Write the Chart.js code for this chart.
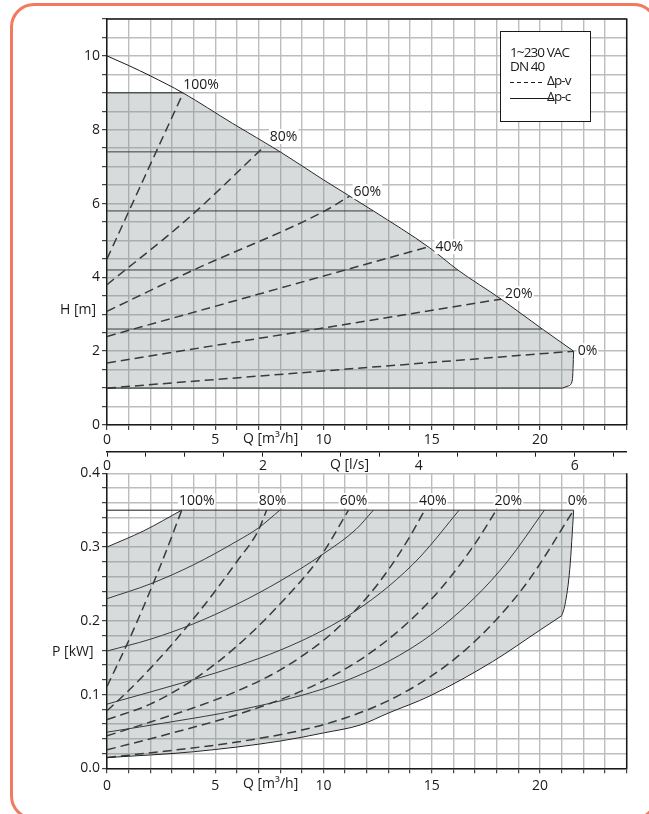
<!DOCTYPE html>
<html>
<head>
<meta charset="utf-8">
<script src="https://cdn.jsdelivr.net/npm/chart.js@4.4.0/dist/chart.umd.min.js"></script>
<style>
  html, body { margin: 0; padding: 0; background: #fff; overflow: hidden; }
  #page { position: relative; width: 649px; height: 814px; overflow: hidden; }
  #frame { position: absolute; left: 10px; top: 2.5px; width: 648px; height: 817px; box-sizing: border-box;
           border: 3px solid #f27a5f; border-radius: 24px; }
  #cTop { position: absolute; left: 0; top: 0; }
  #cBot { position: absolute; left: 0; top: 460px; }
</style>
</head>
<body>
<div id="page">
  <div id="frame"></div>
  <canvas id="cTop" width="649" height="480"></canvas>
  <canvas id="cBot" width="649" height="354"></canvas>
</div>
<script>
// ---------- upper diagram: H [m] over Q [m3/h] ----------
const qMax = [0, 1, 2, 3.5, 5.8, 8.0, 10, 12.3, 14.9, 16.2, 18.2, 20.1, 21.55];
const hMax = [10, 9.74, 9.46, 9.0, 8.17, 7.4, 6.64, 5.8, 4.8, 4.2, 3.41, 2.6, 2.0];
const hConst = [9.0, 7.4, 5.8, 4.2, 2.6, 1.0];          // Δp-c levels 100% .. 0%
const qConstEnd = [3.5, 8.0, 12.3, 16.2, 20.1, 21.03];
const qCorner = [21.03, 21.3, 21.49, 21.55];
const hCorner = [1.0, 1.06, 1.22, 2.0];
const qVar = [[0, 3.52], [0, 3.75, 7.29], [0, 4, 10.06, 11.2], [0, 14.8], [0, 18.2], [0, 21.55]];
const hVar = [[4.5, 9.0], [3.8, 5.6, 7.56], [3.08, 4.2, 5.8, 6.2], [2.4, 4.82], [1.68, 3.41], [1.0, 2.0]];
const pctLabels = ['100%', '80%', '60%', '40%', '20%', '0%'];

// ---------- lower diagram: P [kW] over Q [m3/h] ----------
const pTop = 0.35;
const qTopEnd = 21.55;
const qPc = [
  [0, 1.7, 3.45],
  [0, 2, 4, 6, 7, 7.98],
  [0, 2, 4, 6, 8, 10, 11.5, 12.3],
  [0, 2, 4, 6, 8, 10, 11.5, 13, 14.5, 16.26],
  [0, 3, 6, 9, 11, 13, 15, 17, 18.5, 20.2]
];
const pPc = [
  [0.30, 0.322, 0.35],
  [0.23, 0.25, 0.276, 0.308, 0.326, 0.35],
  [0.159, 0.175, 0.196, 0.2225, 0.254, 0.291, 0.324, 0.35],
  [0.087, 0.1035, 0.1203, 0.1386, 0.1602, 0.1876, 0.2138, 0.2466, 0.2879, 0.35],
  [0.049, 0.0631, 0.0785, 0.099, 0.1184, 0.145, 0.1817, 0.2319, 0.2807, 0.35]
];
const qEnv = [0, 4, 8, 10, 11.7, 13, 14.9, 17.8, 20, 21.0];
const pEnv = [0.0145, 0.0225, 0.037, 0.048, 0.0588, 0.075, 0.098, 0.1446, 0.1875, 0.207];
const qEdge = [21.0, 21.15, 21.37, 21.55];
const pEdge = [0.207, 0.222, 0.27, 0.35];
const qPv = [
  [0, 1, 2, 2.8, 3.45],
  [0, 1, 2, 3, 4, 5, 6, 6.98, 7.37],
  [0, 2, 4, 6, 8, 9.9, 11.15],
  [0, 2, 4, 6, 8, 10, 11, 12, 13, 14, 14.67],
  [0, 3, 6, 9, 11, 12.5, 14, 15.5, 17, 17.98],
  [0, 3, 6, 9, 11, 13, 15, 16.5, 18, 19.5, 21.55]
];
const pPv = [
  [0.111, 0.173, 0.241, 0.2995, 0.35],
  [0.078, 0.1055, 0.1355, 0.168, 0.203, 0.2405, 0.2804, 0.322, 0.35],
  [0.066, 0.087, 0.1203, 0.1657, 0.2232, 0.289, 0.35],
  [0.044, 0.0627, 0.0821, 0.1046, 0.1334, 0.1736, 0.1999, 0.2315, 0.2695, 0.3149, 0.35],
  [0.025, 0.0478, 0.0727, 0.105, 0.1347, 0.1637, 0.2004, 0.2466, 0.3047, 0.35],
  [0.0145, 0.0243, 0.0356, 0.0518, 0.0682, 0.0918, 0.1255, 0.1593, 0.2022, 0.2559, 0.35]
];

const LS_PER_M3H = 1 / 3.6;
const FONT = '"Open Sans", sans-serif';
const INK = '#1a1a1a';
const GRID = '#bdbdbd';
const FILL = 'rgba(125,135,135,0.3)';

const pts = (qs, vs) => qs.map((q, i) => ({ x: q, y: vs[i] }));
const line = (data, extra) => Object.assign({
  data, showLine: true, borderColor: INK, borderWidth: 1, pointRadius: 0,
  fill: false, cubicInterpolationMode: 'monotone'
}, extra);
const dashed = data => line(data, { borderDash: [9, 5], borderWidth: 1.5 });

function labelBox(ctx, text, x, y, align) {
  const w = ctx.measureText(text).width;
  const left = align === 'center' ? x - w / 2 : x;
  ctx.fillStyle = '#fff';
  ctx.fillRect(left - 1, y - 8, w + 2, 15);
  ctx.fillStyle = INK;
  ctx.fillText(text, x, y);
}

const tickFont = { family: FONT, size: 14 };
const gridOpts = { color: GRID, lineWidth: 1.4, tickColor: INK, tickLength: 5, tickWidth: 1 };

function axisX(pad, height) {
  return {
    type: 'linear', min: 0, max: 24, weight: 0,
    grid: gridOpts,
    border: { color: INK, width: 1.5 },
    ticks: {
      stepSize: 1, autoSkip: false, maxRotation: 0, color: INK, padding: pad, font: tickFont,
      callback: v => (v % 5 === 0 && v <= 20) ? String(v) : ''
    },
    afterFit: s => { s.height = height; }
  };
}

// ---------- upper chart ----------
const topArea = [
  { x: 0, y: hConst[5] }, { x: 0, y: hConst[0] },
  ...pts(qMax, hMax).filter(p => p.x >= qConstEnd[0]),
  ...pts(qCorner, hCorner).reverse().slice(1)
];
const topSets = [
  line(topArea, { fill: 'shape', backgroundColor: FILL, borderWidth: 0, cubicInterpolationMode: 'default', tension: 0 }),
  line(pts(qMax, hMax)),
  line(pts(qCorner, hCorner)),
  ...hConst.map((h, i) => line([{ x: 0, y: h }, { x: qConstEnd[i], y: h }])),
  ...qVar.map((qs, i) => dashed(pts(qs, hVar[i])))
];

const topLabelOff = [[0, -8], [5, -9], [4, -4], [8, 0], [4, -5], [4, 0]];

const topDecor = {
  id: 'topDecor',
  afterDraw(chart) {
    const { ctx, chartArea: a, scales: { x, y } } = chart;
    ctx.save();
    ctx.strokeStyle = INK;
    ctx.lineWidth = 1.5;
    ctx.beginPath();
    ctx.moveTo(a.left, a.top); ctx.lineTo(a.right, a.top); ctx.lineTo(a.right, a.bottom);
    ctx.stroke();

    ctx.font = '14px ' + FONT;
    ctx.textBaseline = 'middle';
    ctx.textAlign = 'left';
    pctLabels.forEach((t, i) => {
      const qs = qVar[i], hs = hVar[i];
      const px = x.getPixelForValue(qs[qs.length - 1]) + topLabelOff[i][0];
      const py = y.getPixelForValue(hs[hs.length - 1]) + topLabelOff[i][1];
      labelBox(ctx, t, px, py, 'left');
    });

    ctx.fillStyle = INK;
    ctx.fillText('H [m]', 60, 310);
    labelBox(ctx, 'Q [m³/h]', 243, 439, 'left');
    labelBox(ctx, 'Q [l/s]', 330, 465, 'left');

    // legend box
    ctx.fillStyle = '#fff';
    ctx.fillRect(500.5, 31.5, 90, 90);
    ctx.lineWidth = 1;
    ctx.strokeRect(500.5, 31.5, 90, 90);
    ctx.fillStyle = INK;
    ctx.font = '13.5px ' + FONT;
    ctx.letterSpacing = '-0.9px';
    ctx.fillText('1~230 VAC', 510, 53);
    ctx.fillText('DN 40', 510, 67);
    ctx.fillText('Δp-v', 547, 81);
    ctx.fillText('Δp-c', 547, 97);
    ctx.setLineDash([4, 3]);
    ctx.beginPath(); ctx.moveTo(510, 82.5); ctx.lineTo(543, 82.5); ctx.stroke();
    ctx.setLineDash([]);
    ctx.beginPath(); ctx.moveTo(510, 98.5); ctx.lineTo(553, 98.5); ctx.stroke();
    ctx.restore();
  }
};

new Chart(document.getElementById('cTop'), {
  type: 'scatter',
  data: { datasets: topSets },
  options: {
    responsive: false, animation: false,
    layout: { padding: { left: 0, top: 19, right: 22.3, bottom: 0 } },
    plugins: { legend: { display: false }, tooltip: { enabled: false } },
    scales: {
      x: axisX(2, 26.7),
      x2: {
        type: 'linear', axis: 'x', position: 'bottom', weight: 1,
        min: 0, max: 24 * LS_PER_M3H,
        grid: { drawOnChartArea: false, tickColor: INK, tickLength: 5, tickWidth: 1 },
        border: { color: INK, width: 1.5 },
        ticks: {
          stepSize: 0.5, includeBounds: false, autoSkip: false, maxRotation: 0, color: INK, padding: 1,
          font: tickFont,
          callback: v => (v % 2 === 0) ? String(v) : ''
        },
        afterFit: s => { s.height = 28.3; }
      },
      y: {
        type: 'linear', min: 0, max: 11,
        grid: gridOpts,
        border: { color: INK, width: 1.5 },
        ticks: {
          stepSize: 0.5, autoSkip: false, color: INK, padding: 2, font: tickFont,
          callback: v => (v % 2 === 0 && v <= 10) ? String(v) : ''
        },
        afterFit: s => { s.width = 107; }
      }
    }
  },
  plugins: [topDecor]
});

// ---------- lower chart ----------
const botArea = [
  ...pts(qPc[0], pPc[0]),
  { x: qTopEnd, y: pTop },
  ...pts(qEdge, pEdge).reverse().slice(1),
  ...pts(qEnv, pEnv).reverse().slice(1)
];
const botSets = [
  line(botArea, { fill: 'shape', backgroundColor: FILL, borderWidth: 0, cubicInterpolationMode: 'default', tension: 0 }),
  line([{ x: 0, y: pTop }, { x: qTopEnd, y: pTop }]),
  line(pts(qEnv, pEnv)),
  line(pts(qEdge, pEdge)),
  ...qPc.map((qs, i) => line(pts(qs, pPc[i]))),
  ...qPv.map((qs, i) => dashed(pts(qs, pPv[i])))
];

const botLabelDx = [15, 6, 5, 8, 12, 4];

const botDecor = {
  id: 'botDecor',
  afterDraw(chart) {
    const { ctx, chartArea: a, scales: { x, y } } = chart;
    ctx.save();
    ctx.strokeStyle = INK;
    ctx.lineWidth = 1.5;
    ctx.beginPath(); ctx.moveTo(a.right, a.top); ctx.lineTo(a.right, a.bottom); ctx.stroke();

    ctx.font = '14px ' + FONT;
    ctx.textBaseline = 'middle';
    ctx.textAlign = 'center';
    const ly = y.getPixelForValue(pTop) - 9;
    pctLabels.forEach((t, i) => {
      const qs = qPv[i];
      labelBox(ctx, t, x.getPixelForValue(qs[qs.length - 1]) + botLabelDx[i], ly, 'center');
    });
    ctx.textAlign = 'left';
    ctx.fillStyle = INK;
    ctx.fillText('P [kW]', 52, 192);
    labelBox(ctx, 'Q [m³/h]', 243, 324, 'left');
    ctx.restore();
  }
};

new Chart(document.getElementById('cBot'), {
  type: 'scatter',
  data: { datasets: botSets },
  options: {
    responsive: false, animation: false,
    layout: { padding: { left: 0, top: 13.3, right: 22.3, bottom: 0 } },
    plugins: { legend: { display: false }, tooltip: { enabled: false } },
    scales: {
      x: axisX(4, 45.7),
      y: {
        type: 'linear', min: 0, max: 0.4,
        grid: gridOpts,
        border: { color: INK, width: 1.5 },
        ticks: {
          stepSize: 0.02, autoSkip: false, color: INK, padding: 2, font: tickFont,
          callback: v => { const k = Math.round(v * 100); return k % 10 === 0 ? (k / 100).toFixed(1) : ''; }
        },
        afterFit: s => { s.width = 107; }
      }
    }
  },
  plugins: [botDecor]
});
</script>
</body>
</html>
